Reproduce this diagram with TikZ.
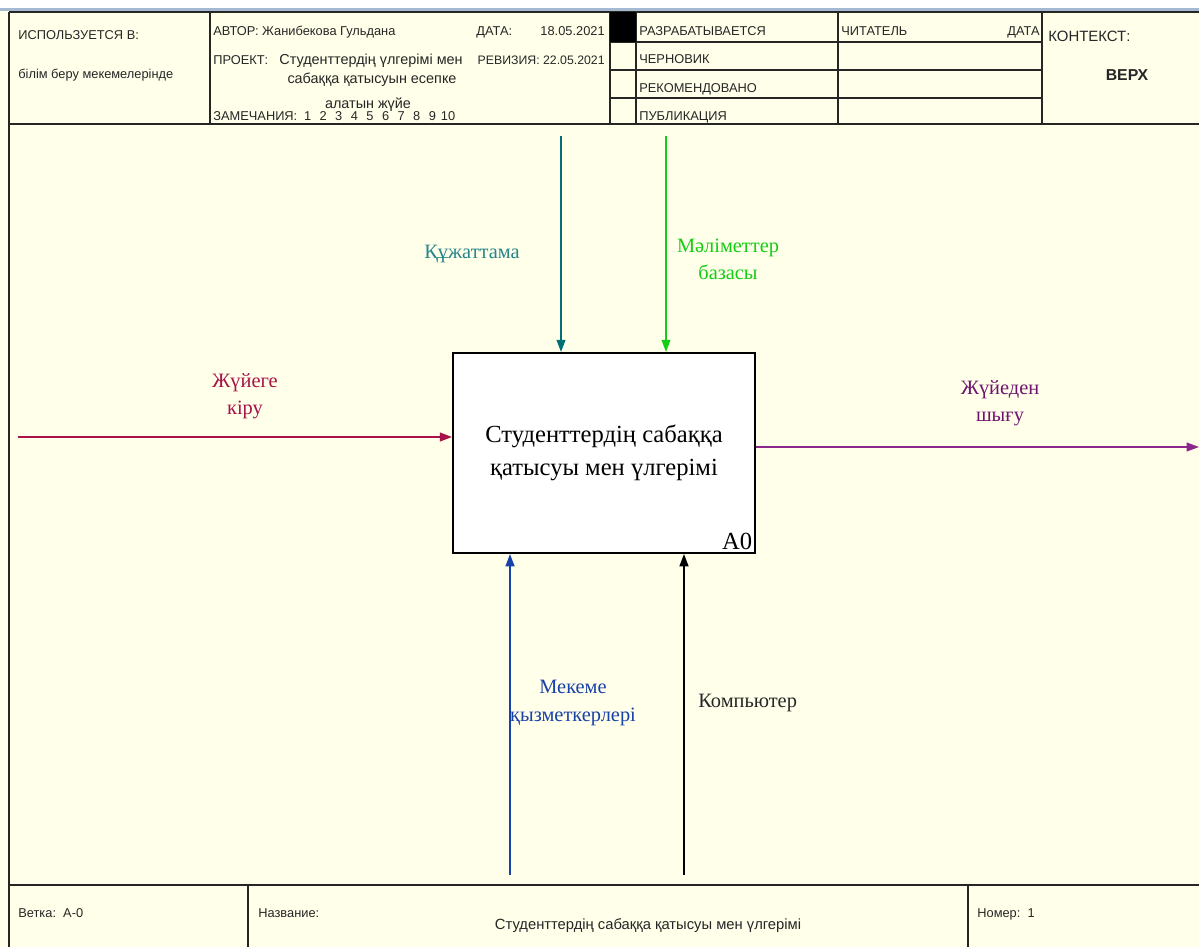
\documentclass[tikz,border=0pt]{standalone}
\usepackage{fontspec}
\setmainfont{Liberation Serif}
\setsansfont{Liberation Sans}
\usepackage{tikz}
\usetikzlibrary{arrows.meta,positioning}
\usepackage{xcolor}
\definecolor{idefbg}{RGB}{255,255,234}
\definecolor{idefchrome}{RGB}{165,185,210}
\definecolor{idefred}{RGB}{168,18,72}
\definecolor{idefpurple}{RGB}{140,40,140}
\definecolor{idefpurpletxt}{RGB}{110,20,110}
\definecolor{idefteal}{RGB}{0,112,118}
\definecolor{idefgreen}{RGB}{20,205,20}
\definecolor{idefblue}{RGB}{25,65,170}
\newcommand{\hdrfont}{\sffamily\fontsize{7.3}{8}\selectfont}
\newcommand{\projfont}{\sffamily\fontsize{8.2}{10}\selectfont}
\tikzstyle{frame} = [line width=0.8pt, color=black!85]
\tikzstyle{hdr} = [font=\hdrfont, inner sep=0pt, anchor=base west, color=black!85]
\tikzstyle{flow} = [line width=1pt, -{Triangle[length=7pt,width=5pt]}]
\tikzstyle{flowlabel} = [font=\fontsize{11.6}{15.4}\selectfont, align=center, inner sep=0pt]
\tikzstyle{activity} = [rectangle, draw, line width=1.1pt, fill=white, minimum width=6.04cm, minimum height=4cm, align=center, font=\fontsize{14}{18.8}\selectfont]

\begin{document}
\begin{tikzpicture}[x=0.02cm, y=-0.02cm]
\useasboundingbox (0,0) rectangle (1199,947);
% background and window edge
\fill[idefbg] (0,0) rectangle (1199,947);
\fill[white] (0,0) rectangle (1199,8);
\draw[idefchrome, line width=1.6pt] (0,9.5) -- (1199,9.5);

% form frame
\draw[frame, line width=1.3pt] (9,12) -- (9,947);
\draw[frame] (9,12) -- (1199,12);
\draw[frame] (9,124) -- (1199,124);
\draw[frame] (9,885) -- (1199,885);
\foreach \x in {210,610,636,838,1042}
  \draw[frame] (\x,12) -- (\x,124);
\foreach \y in {42,70,98}
  \draw[frame] (610,\y) -- (1042,\y);
\fill[black] (610,12) rectangle (636,42);
\foreach \x in {248,968}
  \draw[frame] (\x,885) -- (\x,947);

% header texts
\node (usedAt) [hdr] at (18,39) {ИСПОЛЬЗУЕТСЯ В:};
\node (usedPlace) [hdr] at (18,78) {білім беру мекемелерінде};
\node (author) [hdr] at (213,35) {АВТОР: Жанибекова Гульдана};
\node (project) [hdr] at (213,64) {ПРОЕКТ:};
\node (projA) [hdr, font=\projfont] at (279,64) {Студенттердің үлгерімі мен};
\node (projB) [hdr, anchor=base, font=\projfont] at (372,83) {сабаққа қатысуын есепке};
\node (projC) [hdr, anchor=base, font=\projfont] at (368,108) {алатын жүйе};
\node (notes) [hdr] at (213,120) {ЗАМЕЧАНИЯ:};
\foreach \n [count=\i] in {1,...,10}
  \node (note\n) [hdr, anchor=base] at (292+15.6*\i,120) {\n};
\node (dateLbl) [hdr] at (476,35) {ДАТА:};
\node (dateVal) [hdr, anchor=base east] at (605,35) {18.05.2021};
\node (revision) [hdr, anchor=base east, font=\sffamily\fontsize{7}{8}\selectfont] at (605,64) {РЕВИЗИЯ: 22.05.2021};
\node (stWork) [hdr] at (639,35) {РАЗРАБАТЫВАЕТСЯ};
\node (stDraft) [hdr] at (639,63) {ЧЕРНОВИК};
\node (stRec) [hdr] at (639,92) {РЕКОМЕНДОВАНО};
\node (stPub) [hdr] at (639,120) {ПУБЛИКАЦИЯ};
\node (reader) [hdr] at (841,35) {ЧИТАТЕЛЬ};
\node (readerDate) [hdr, anchor=base east] at (1040,35) {ДАТА};
\node (context) [hdr, font=\sffamily\fontsize{8.5}{10}\selectfont] at (1048,41) {КОНТЕКСТ:};
\node (top) [hdr, anchor=base, font=\sffamily\bfseries\fontsize{9}{10}\selectfont] at (1127,80) {ВЕРХ};

% footer texts
\node (node) [hdr] at (18,917) {Ветка:\ \ А-0};
\node (titleLbl) [hdr] at (258,917) {Название:};
\node (title) [hdr, anchor=base, font=\sffamily\fontsize{8.4}{9}\selectfont] at (648,929) {Студенттердің сабаққа қатысуы мен үлгерімі};
\node (number) [hdr] at (977,917) {Номер:\ \ 1};

% activity box
\node (act) [activity] at (604,453) {Студенттердің сабаққа\\қатысуы мен үлгерімі};
\node (actNo) [anchor=south east, inner sep=2pt, font=\fontsize{14}{16}\selectfont] at (act.south east) {A0};

% free ends of the arrows
\coordinate (inSrc) at (18,437);
\coordinate (outDst) at (1199,447);
\coordinate (docSrc) at (561,136);
\coordinate (dbSrc) at (666,136);
\coordinate (staffSrc) at (510,875);
\coordinate (pcSrc) at (684,875);

% input, output, controls, mechanisms
\draw[flow, idefred] (inSrc) -- (inSrc -| act.west);
\draw[flow, idefpurple, line width=0.8pt] (outDst -| act.east) -- (outDst);
\draw[flow, idefteal] (docSrc) -- (docSrc |- act.north);
\draw[flow, idefgreen] (dbSrc) -- (dbSrc |- act.north);
\draw[flow, idefblue] (staffSrc) -- (staffSrc |- act.south);
\draw[flow, black] (pcSrc) -- (pcSrc |- act.south);

% arrow labels
\node (inLbl) [flowlabel, idefred] at (245,396) {Жүйеге\\кіру};
\node (outLbl) [flowlabel, idefpurpletxt] at (1000,403) {Жүйеден\\шығу};
\node (docLbl) [flowlabel, idefteal!85] at (472,254) {Құжаттама};
\node (dbLbl) [flowlabel, idefgreen] at (728,259) {Мәліметтер\\базасы};
\node (staffLbl) [flowlabel, idefblue] at (573,703) {Мекеме\\қызметкерлері};
\node (pcLbl) [flowlabel, anchor=west, black!85] at (698,703) {Компьютер};
\end{tikzpicture}
\end{document}
